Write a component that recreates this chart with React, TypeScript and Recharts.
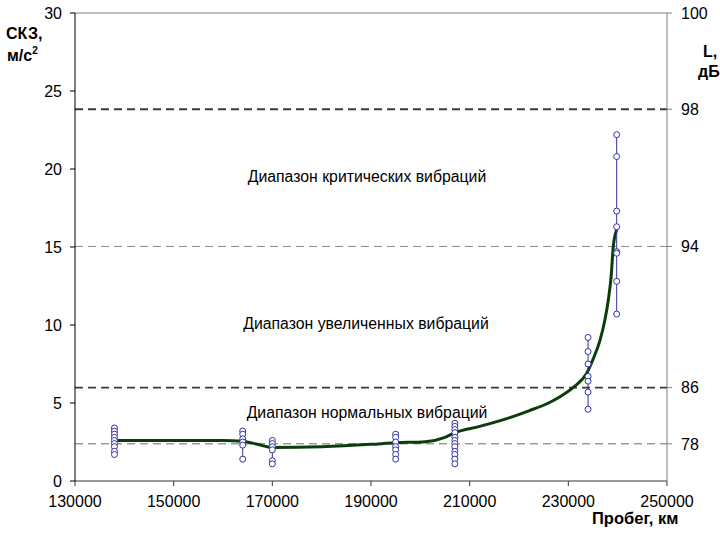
import React from "react";
import {
  ComposedChart,
  XAxis,
  YAxis,
  Line,
  Scatter,
  ReferenceLine,
} from "recharts";

// X axis: пробег, км
const mileageTicks = [130000, 150000, 170000, 190000, 210000, 230000, 250000];
// Left axis: СКЗ, м/с²
const skzTicks = [0, 5, 10, 15, 20, 25, 30];
// Right axis: L, дБ
const dbLabels = [78, 86, 94, 98, 100];
const dbToSkz = (L: number) => 30 * Math.pow(10, (L - 100) / 20);
const dbLevels = dbLabels.map(dbToSkz);

// Measured clusters
const clusterMileage = [138000, 164000, 170000, 195000, 207000, 234000, 239800];
const cluster1 = [3.4, 3.2, 3.0, 2.8, 2.6, 2.4, 2.2, 1.9, 1.7];
const cluster2 = [3.2, 3.0, 2.7, 2.5, 2.3, 1.4];
const cluster3 = [2.6, 2.4, 2.2, 2.0, 1.3, 1.1];
const cluster4 = [3.0, 2.8, 2.5, 2.2, 2.0, 1.7, 1.4];
const cluster5 = [3.7, 3.5, 3.3, 3.1, 2.8, 2.6, 2.4, 2.2, 1.9, 1.7, 1.4, 1.1];
const cluster6 = [9.2, 8.3, 7.5, 6.7, 6.4, 5.7, 4.6];
const cluster7 = [22.2, 20.8, 17.3, 16.3, 14.7, 14.6, 12.8, 10.7];
const clusterValues = [cluster1, cluster2, cluster3, cluster4, cluster5, cluster6, cluster7];

// Trend line
const trendMileage = [
  138000, 150000, 160000, 164000, 167000, 170000, 180000, 190000, 195000, 201000,
  205000, 207000, 212000, 218000, 222000, 226000, 228300, 231000, 233700, 235000,
  236400, 237400, 238100, 238700, 239100, 239800,
];
const trendSkz = [
  2.6, 2.6, 2.6, 2.55, 2.35, 2.15, 2.2, 2.35, 2.45, 2.52,
  2.8, 3.1, 3.5, 4.05, 4.5, 5.0, 5.4, 6.0, 6.9, 7.8,
  9.0, 10.3, 11.6, 13.2, 15.0, 16.1,
];

const trendData = trendMileage.map((x, i) => ({ x, y: trendSkz[i] }));
const clusterData = clusterValues.map((vals, i) =>
  vals.map((y) => ({ x: clusterMileage[i], y }))
);

const FONT = "'Liberation Sans', Arial, sans-serif";
const BLUE = "#3333a0";
const TICK_FS = 16;

const Dot = (props: any) => {
  const { cx, cy } = props;
  if (cx == null || cy == null) return null;
  return <circle cx={cx} cy={cy} r={3} fill="#ffffff" stroke={BLUE} strokeWidth={1} />;
};

export default function App() {
  return (
    <div style={{ position: "absolute", left: 0, top: 0, width: 720, height: 533, background: "#fff" }}>
      <div style={{ position: "absolute", left: 0, top: 0 }}>
        <ComposedChart
          width={720}
          height={533}
          margin={{ top: 13, right: 0, bottom: 0, left: 0 }}
          style={{ fontFamily: FONT }}
        >
          <XAxis
            type="number"
            dataKey="x"
            domain={[130000, 250000]}
            ticks={mileageTicks}
            allowDataOverflow
            height={52}
            stroke="#333333"
            tickSize={5}
            tickMargin={10}
            tick={{ fill: "#000", fontSize: TICK_FS, fontFamily: FONT }}
            interval={0}
          />
          <YAxis
            yAxisId="left"
            type="number"
            dataKey="y"
            domain={[0, 30]}
            ticks={skzTicks}
            allowDataOverflow
            width={75}
            stroke="#000000"
            tickSize={5}
            tickMargin={8}
            tick={{ fill: "#000", fontSize: TICK_FS, fontFamily: FONT }}
            interval={0}
          />
          <YAxis
            yAxisId="right"
            orientation="right"
            type="number"
            domain={[0, 30]}
            ticks={dbLevels}
            allowDataOverflow
            width={53}
            stroke="#808080"
            tickSize={5}
            tickMargin={9}
            tick={{ fill: "#000", fontSize: TICK_FS, fontFamily: FONT }}
            tickFormatter={(v: number) => {
              const i = dbLevels.findIndex((d) => Math.abs(d - v) < 1e-6);
              return i >= 0 ? String(dbLabels[i]) : "";
            }}
            interval={0}
          />
          <ReferenceLine yAxisId="left" y={30} stroke="#808080" strokeWidth={1} />
          <ReferenceLine yAxisId="left" y={dbLevels[3]} stroke="#3a3a3a" strokeWidth={1.8} strokeDasharray="8 5" />
          <ReferenceLine yAxisId="left" y={dbLevels[2]} stroke="#8a8a8a" strokeWidth={1} strokeDasharray="8 5" />
          <ReferenceLine yAxisId="left" y={dbLevels[1]} stroke="#3a3a3a" strokeWidth={1.8} strokeDasharray="8 5" />
          <ReferenceLine yAxisId="left" y={dbLevels[0]} stroke="#6a6a6a" strokeWidth={1} strokeDasharray="8 5" />
          <Line
            yAxisId="left"
            data={trendData}
            dataKey="y"
            type="monotone"
            stroke="#0b3d0b"
            strokeWidth={3}
            dot={false}
            isAnimationActive={false}
          />
          {clusterData.map((d, i) => (
            <Scatter
              key={i}
              yAxisId="left"
              data={d}
              dataKey="y"
              line={{ stroke: BLUE, strokeWidth: 1 }}
              lineType="joint"
              shape={<Dot />}
              isAnimationActive={false}
            />
          ))}
        </ComposedChart>
      </div>
      <svg
        width={720}
        height={533}
        style={{ position: "absolute", left: 0, top: 0, pointerEvents: "none" }}
        fontFamily={FONT}
      >
        <text x={6} y={39} fontSize={16} fontWeight="bold" fill="#000">СКЗ,</text>
        <text x={7} y={61} fontSize={16} fontWeight="bold" fill="#000">
          м/с<tspan fontSize={10} dy={-7}>2</tspan>
        </text>
        <text x={703} y={57} fontSize={16} fontWeight="bold" fill="#000">L,</text>
        <text x={698} y={77} fontSize={16} fontWeight="bold" fill="#000">дБ</text>
        <text x={592} y={524} fontSize={16.5} fontWeight="bold" fill="#000">Пробег, км</text>
        <text x={367} y={182} fontSize={15.8} textAnchor="middle" fill="#000">Диапазон критических  вибраций</text>
        <text x={366} y={329} fontSize={15.8} textAnchor="middle" fill="#000">Диапазон увеличенных вибраций</text>
        <text x={367} y={418} fontSize={15.8} textAnchor="middle" fill="#000">Диапазон нормальных вибраций</text>
      </svg>
    </div>
  );
}
